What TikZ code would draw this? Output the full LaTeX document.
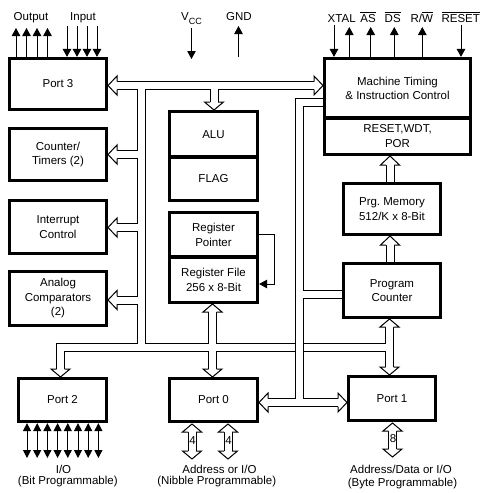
\documentclass[tikz,border=0pt]{standalone}
\usepackage{fontspec}
\setmainfont{Liberation Sans}
\usetikzlibrary{arrows.meta}
\newcommand\ovl[1]{$\overline{\mbox{#1}}$}
\newcommand\vhead[3]{\filldraw[headst] (#1-4,#2) -- (#1-9.5,#2) -- (#1,#3) -- (#1+9.5,#2) -- (#1+4,#2);}
\newcommand\hhead[3]{\filldraw[headst] (#2,#1-4) -- (#2,#1-9.5) -- (#3,#1) -- (#2,#1+9.5) -- (#2,#1+4);}
\newcommand\busgroupA[1]{%
  \draw[#1] (117,85.5) -- (314,85.5);
  \draw[#1] (141,85.5) -- (141,347.5);
  \draw[#1] (141,154.5) -- (117,154.5);
  \draw[#1] (141,227.5) -- (117,227.5);
  \draw[#1] (141,300) -- (117,300);
  \draw[#1] (214,85.5) -- (214,102);
  \draw[#1] (60.5,369) -- (60.5,347.5) -- (389.5,347.5);
  \draw[#1] (212.5,312) -- (212.5,369);
  \draw[#1] (389.5,327) -- (389.5,367);
  \draw[#1] (390,165) -- (pm.north -| 390,0);
  \draw[#1] (390,245) -- (pc.north -| 390,0);
}
\newcommand\busgroupB[1]{%
  \draw[#1] (mt.west |- 0,102) -- (299.5,102) -- (299.5,402.5);
  \draw[#1] (299.5,294) -- (pc.west |- 0,294);
  \draw[#1] (268,402.5) -- (338,402.5);
}
\newcommand\busgroupC[1]{%
  \draw[#1] (192,432) -- (192,451);
  \draw[#1] (228,432) -- (228,451);
  \draw[#1] (392.5,431) -- (392.5,449);
}
\begin{document}
\begin{tikzpicture}[x=1pt,y=-1pt,
  box/.style={draw, line width=3.2pt, inner sep=0pt, align=center, font=\fontsize{11.5}{14.5}\selectfont},
  lbl/.style={inner sep=0pt, font=\fontsize{11.5}{14}\selectfont},
  sig/.style={line width=1pt, -{Triangle[width=8.5pt,length=8pt]}},
  io/.style={line width=1pt, {Triangle[width=8pt,length=8pt]}-{Triangle[width=8pt,length=8pt]}},
  busb/.style={line width=9pt, line join=miter},
  busw/.style={line width=7pt, white, line join=miter},
  headst/.style={fill=white, draw=black, line width=1pt, line join=miter}]
\fill[white] (0,0) rectangle (485,493);
\useasboundingbox (0,0) rectangle (485,493);

% boxes
\node[box, minimum width=97pt, minimum height=51pt] (port3) at (58,84) {Port 3};
\node[box, minimum width=97pt, minimum height=52pt] (ct) at (58,154.5) {Counter/\\Timers (2)};
\node[box, minimum width=97pt, minimum height=53pt] (ic) at (58,227) {Interrupt\\Control};
\node[box, minimum width=97pt, minimum height=54pt] (ac) at (58,298.5) {Analog\\Comparators\\(2)};
\node[box, minimum width=88pt, minimum height=45.5pt] (alu) at (213.5,134.25) {ALU};
\node[box, minimum width=88pt, minimum height=43.5pt] (flag) at (213.5,178.75) {FLAG};
\node[box, minimum width=88pt, minimum height=44.5pt] (rp) at (213.5,234.75) {Register\\Pointer};
\node[box, minimum width=88pt, minimum height=45.5pt] (rf) at (213.5,279.75) {Register File\\256 x 8-Bit};
\node[box, minimum width=146pt, minimum height=59.5pt] (mt) at (397.5,88.25) {Machine Timing\\\& Instruction Control};
\node[box, minimum width=146pt, minimum height=36.5pt] (rwp) at (397.5,136.25) {RESET,WDT,\\POR};
\node[box, minimum width=97pt, minimum height=51pt] (pm) at (392,209) {Prg.\ Memory\\512/K x 8-Bit};
\node[box, minimum width=97pt, minimum height=54pt] (pc) at (392,290.5) {Program\\Counter};
\node[box, minimum width=87pt, minimum height=44pt] (port1) at (392,398.5) {Port 1};
\node[box, minimum width=88pt, minimum height=43pt] (port0) at (213.5,400) {Port 0};
\node[box, minimum width=88pt, minimum height=43pt] (port2) at (62.5,400) {Port 2};

% buses
\busgroupA{busb}
\busgroupA{busw}
\busgroupB{busb}
\busgroupB{busw}
\busgroupC{busb}
\busgroupC{busw}

% hollow heads
\hhead{85.5}{117}{108} \hhead{85.5}{314}{323}
\hhead{154.5}{117}{108} \hhead{227.5}{117}{108} \hhead{300}{117}{108}
\vhead{214}{102}{110}
\vhead{60.5}{369}{377}
\vhead{212.5}{312}{304} \vhead{212.5}{369}{377}
\vhead{389.5}{327}{319} \vhead{389.5}{367}{375}
\vhead{390}{165}{156} \vhead{390}{245}{236}
\hhead{402.5}{268}{259} \hhead{402.5}{338}{347}
\vhead{192}{432}{424} \vhead{192}{451}{459}
\vhead{228}{432}{424} \vhead{228}{451}{459}
\vhead{392.5}{431}{423} \vhead{392.5}{449}{457}

\node[lbl] (n4a) at (192.5,441) {4};
\node[lbl] (n4b) at (228.5,441) {4};
\node[lbl] (n8) at (393,439) {8};

% register pointer feedback
\draw[sig] (rp.east) -| (274,284) -- (rf.east |- 0,284);

% top signals
\foreach \x in {16,26.5,37,47.5} \draw[sig] (port3.north -| \x,0) -- (\x,28);
\foreach \x in {67,77,87,97} \draw[sig] (\x,26) -- (port3.north -| \x,0);
\coordinate (vccend) at (191.5,59);
\coordinate (gndend) at (238.5,26);
\draw[sig] (191.5,28) -- (vccend);
\draw[sig] (238.5,57) -- (gndend);
\draw[sig] (334,25) -- (mt.north -| 334,0);
\foreach \x in {349.3,370.7,394.3,422.3} \draw[sig] (mt.north -| \x,0) -- (\x,27);
\draw[sig] (461,25) -- (mt.north -| 461,0);

\node[lbl, anchor=base] (lout) at (31,20) {Output};
\node[lbl, anchor=base] (lin) at (83,20) {Input};
\node[lbl, anchor=base] (lvcc) at (191.5,20.5) {V\raisebox{-3.5pt}{\fontsize{9}{9}\selectfont CC}};
\node[lbl, anchor=base] (lgnd) at (239,20) {GND};
\node[lbl, anchor=base] (lxtal) at (341.7,22) {XTAL};
\node[lbl, anchor=base] (las) at (368,22) {\ovl{AS}};
\node[lbl, anchor=base] (lds) at (392.7,22) {\ovl{DS}};
\node[lbl, anchor=base] (lrw) at (421.7,22) {R/\ovl{W}};
\node[lbl, anchor=base] (lrst) at (460.7,22) {\ovl{RESET}};

% port 2 io lines
\foreach \i in {0,...,7} \draw[io] (port2.south -| 27+10.2*\i,0) -- (27+10.2*\i,458);

% bottom labels
\node[lbl, anchor=base] (b1a) at (63.5,473) {I/O};
\node[lbl, anchor=base] (b1b) at (67.8,484) {(Bit Programmable)};
\node[lbl, anchor=base] (b2a) at (219.5,473) {Address or I/O};
\node[lbl, anchor=base] (b2b) at (216.7,484) {(Nibble Programmable)};
\node[lbl, anchor=base] (b3a) at (401,473.5) {Address/Data or I/O};
\node[lbl, anchor=base] (b3b) at (402.5,486.5) {(Byte Programmable)};
\end{tikzpicture}
\end{document}
